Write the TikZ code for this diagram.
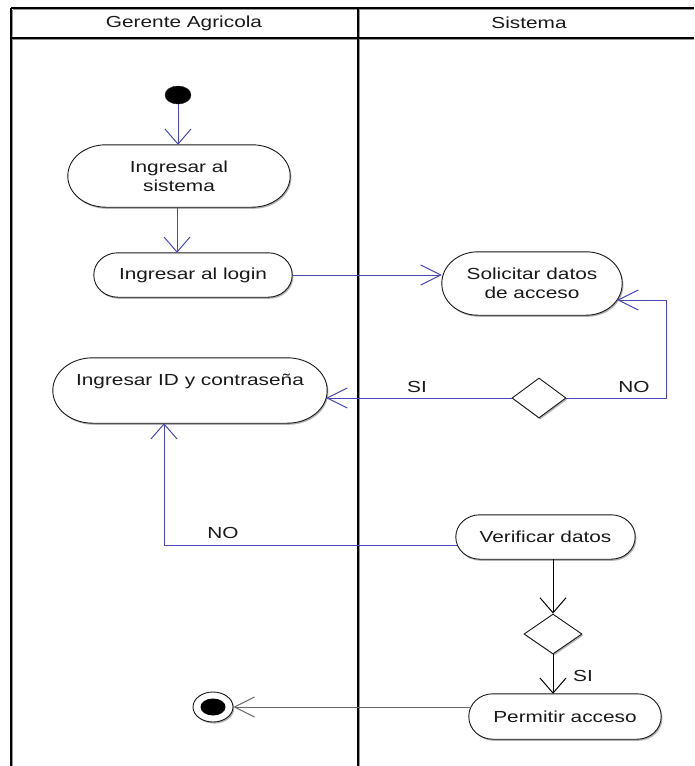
\documentclass[tikz,border=0pt]{standalone}
\usepackage{fontspec}
\setmainfont{Liberation Sans}[FakeStretch=1.3]
\usetikzlibrary{shapes.geometric,arrows.meta,shadows,calc}
\pgfdeclarelayer{background}
\pgfsetlayers{background,main}

\definecolor{flowblue}{RGB}{72,72,182}
\definecolor{inkgray}{RGB}{25,25,25}
\definecolor{lanegray}{RGB}{150,150,150}

% action border: flat top and bottom, elliptic ends
\newcommand\pillborder[3]{%
  \draw[pill] ([xshift=#2]#1.north west) -- ([xshift=-#2]#1.north east)
    arc[start angle=90,end angle=0,x radius=#2,y radius=#3]
    -- ([yshift=#3]#1.south east)
    arc[start angle=0,end angle=-90,x radius=#2,y radius=#3]
    -- ([xshift=#2]#1.south west)
    arc[start angle=270,end angle=180,x radius=#2,y radius=#3]
    -- ([yshift=-#3]#1.north west)
    arc[start angle=180,end angle=90,x radius=#2,y radius=#3] -- cycle;}

\begin{document}
\begin{tikzpicture}[x=1pt,y=-1pt,
  txt/.style={font=\fontsize{16}{19}\selectfont, text=inkgray},
  act/.style={txt, inner sep=0pt, align=center},
  pill/.style={draw=inkgray, fill=white, line width=0.9pt,
    drop shadow={shadow xshift=1.2pt, shadow yshift=-1.6pt, opacity=0.3, fill=black}},
  decision/.style={diamond, draw=inkgray, fill=white, line width=0.9pt,
    inner sep=0pt, minimum height=40pt,
    drop shadow={shadow xshift=1.2pt, shadow yshift=-1.6pt, opacity=0.3, fill=black}},
  startnode/.style={ellipse, fill=black, draw=inkgray, inner sep=0pt,
    minimum width=26pt, minimum height=18pt},
  endring/.style={ellipse, draw=inkgray, fill=white, line width=0.9pt, inner sep=0pt,
    minimum width=40pt, minimum height=30pt,
    drop shadow={shadow xshift=1.2pt, shadow yshift=-1.6pt, opacity=0.3, fill=black}},
  endcore/.style={ellipse, fill=black, inner sep=0pt,
    minimum width=25pt, minimum height=17pt},
  lanetitle/.style={txt},
  lbl/.style={txt, inner sep=0pt},
  lane/.style={line width=1.3pt, draw=black},
  laneshade/.style={line width=1.3pt, draw=lanegray},
  vtip/.tip={Straight Barb[length=15pt,width=26pt]},
  htip/.tip={Straight Barb[length=20pt,width=20pt]},
  blueflow/.style={draw=flowblue, line width=1pt},
  blackflow/.style={draw=black, line width=1pt},
  grayflow/.style={draw=black!60, line width=1pt}]

\useasboundingbox (0,0) rectangle (694,766);

% swimlane frame with its soft shade
\draw[laneshade] (12.5,9.5) -- (694,9.5);
\draw[laneshade] (12.5,39.5) -- (694,39.5);
\draw[laneshade] (12.5,9.5) -- (12.5,766);
\draw[laneshade] (359.5,9.5) -- (359.5,766);
\draw[lane] (11,8) -- (694,8);
\draw[lane] (11,38) -- (694,38);
\draw[lane] (11,8) -- (11,766);
\draw[lane] (358,8) -- (358,766);

\node[lanetitle] (gerente) at (184,23) {Gerente Agricola};
\node[lanetitle] (sistema) at (529,23) {Sistema};

% activities
\node[act, minimum width=222pt, minimum height=62pt] (sys) at (179,176) {Ingresar al\\sistema};
\node[act, minimum width=198pt, minimum height=44pt] (login) at (193,275) {Ingresar al login};
\node[act, minimum width=180pt, minimum height=63pt] (sol) at (532,283.5) {Solicitar datos\\de acceso};
\node[act, minimum width=274pt, minimum height=65pt, text height=12pt, text depth=23pt] (id) at (190,390.5) {Ingresar ID y contraseña};
\node[act, minimum width=179pt, minimum height=44pt] (ver) at (545.5,537) {Verificar datos};
\node[act, minimum width=192pt, minimum height=45pt] (perm) at (565,716.5) {Permitir acceso};

\begin{pgfonlayer}{background}
  \pillborder{sys}{38pt}{31pt}
  \pillborder{login}{24pt}{22pt}
  \pillborder{sol}{36pt}{31.5pt}
  \pillborder{id}{40pt}{32.5pt}
  \pillborder{ver}{24pt}{22pt}
  \pillborder{perm}{24pt}{22.5pt}
\end{pgfonlayer}

% decisions, initial and final nodes
\node[decision, minimum width=54pt] (d1) at (539,398) {};
\node[decision, minimum width=58pt] (d2) at (553,634) {};
\node[startnode] (start) at (178,95) {};
\node[endring] (end) at (213,707) {};
\node[endcore] (endin) at (213,707) {};

% bend points
\coordinate (loopc) at (666,300);
\coordinate (backc) at (164,545);

% flows
\draw[blueflow, -vtip] (start) -- (start |- sys.north);
\draw[blueflow, -vtip] (sys.south -| 177,0) -- (login.north -| 177,0);
\draw[blueflow, -htip] (login.east) -- (login.east -| sol.west);
\draw[blueflow, -htip] (d1.east) -- (d1.east -| loopc) -- (loopc) -- ([xshift=-5pt]sol.east |- loopc);
\draw[blueflow, -htip] (d1.west) -- ([xshift=-1pt]d1.west -| id.east);
\draw[blueflow, -vtip] ([xshift=1.5pt]backc -| ver.west) -- (backc) -- (backc |- id.south);
\draw[blackflow, -vtip] (ver.south -| d2.north) -- (d2.north);
\draw[blackflow, -vtip] (d2.south) -- (d2.south |- perm.north);
\draw[grayflow, -htip] ([xshift=2pt]end -| perm.west) -- (end.east);

% guard labels
\node[lbl] (nolbl) at (634,387) {NO};
\node[lbl] (silbl) at (417,387) {SI};
\node[lbl] (noback) at (223,533) {NO};
\node[lbl] (siok) at (583,676) {SI};

\end{tikzpicture}
\end{document}
